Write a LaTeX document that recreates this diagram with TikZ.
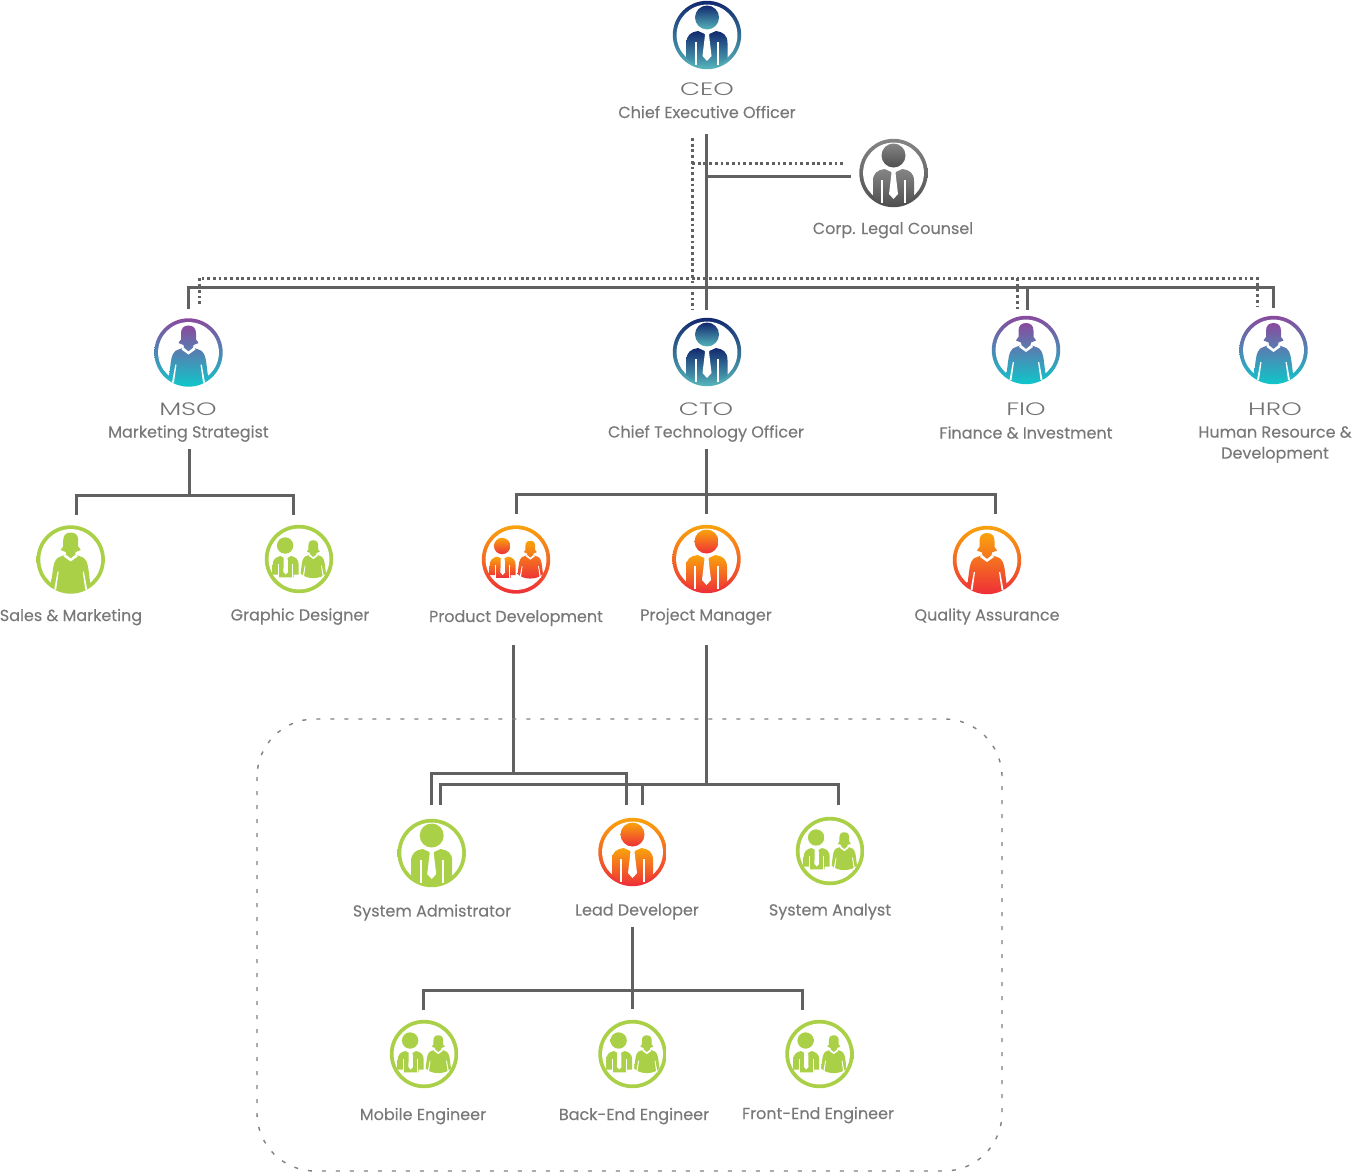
\documentclass[tikz,border=0pt]{standalone}
\usepackage{fontspec}
\setmainfont[FakeBold=0.2]{Poppins}
\newfontfamily\widefont[FakeStretch=1.45]{Poppins Light}
\usetikzlibrary{calc}
\colorlet{txtcol}{black!53}
\colorlet{linecol}{black!62}
\definecolor{navyA}{HTML}{12296F}
\definecolor{navyB}{HTML}{55B4BA}
\definecolor{greyA}{HTML}{858585}
\definecolor{greyB}{HTML}{4F4F4F}
\definecolor{purpA}{HTML}{8A4A9E}
\definecolor{purpB}{HTML}{10C6CA}
\definecolor{oranA}{HTML}{F9A30C}
\definecolor{oranB}{HTML}{EE2F38}
\definecolor{leaf}{HTML}{A9D046}
\tikzstyle{conn}=[linecol,line width=1.5pt]
\tikzstyle{dotline}=[linecol,line width=1.5pt,dash pattern=on 1.4pt off 1.45pt]
\tikzstyle{frame}=[black!50,line width=0.7pt,dash pattern=on 2pt off 5pt,rounded corners=29pt]
\tikzset{
  job/.style={txtcol,font=\fontsize{8}{10.5}\selectfont,align=center,inner sep=0,anchor=base},
  rank/.style={black!55,font=\fontsize{9}{10}\widefont,inner sep=0,anchor=base},
  face/.style 2 args={top color=#1,bottom color=#2,draw=none}}
\newcommand\drawRing[2]{
  \path[face={#1}{#2}] (0,0) circle (34.2);
  \fill[white] (0,0) circle (30.4);
}
\newcommand\drawMan[3]{
  \begin{scope}[shift={(#1)}]
    \drawRing{#2}{#3}
    \path[face={#2}{#3}] (0,-17.5) circle (12);
    \path[face={#2}{#3}] (-20.5,23.3) -- (-20.5,8) .. controls (-20.5,0) and (-16,-3) .. (-9,-4)
      -- (0,0) -- (9,-4) .. controls (16,-3) and (20.5,0) .. (20.5,8) -- (20.5,23.3)
      .. controls (11,33.6) and (-11,33.6) .. (-20.5,23.3) -- cycle;
    \fill[white] (-3,-3) -- (3,-3) -- (2,0) -- (4.5,21) -- (0,26) -- (-4.5,21) -- (-2,0) -- cycle;
    \fill[white] (-12.2,7) rectangle (-10.2,30);
    \fill[white] (10.2,7) rectangle (12.2,30);
  \end{scope}
}
\newcommand\womanShape[2]{
  \path[face={#1}{#2}] (0,-27) .. controls (5,-27) and (7.5,-24) .. (7.5,-19) -- (7.5,-13)
    .. controls (8,-11.5) and (10,-11) .. (10,-9.5) -- (5,-7.5) -- (4.5,-5) -- (10,-3)
    .. controls (15,-2) and (17,3) .. (18,12) -- (19.5,24)
    .. controls (11,33.6) and (-11,33.6) .. (-19.5,24) -- (-18,12)
    .. controls (-17,3) and (-15,-2) .. (-10,-3) -- (-4.5,-5) -- (-5,-7.5) -- (-10,-9.5)
    .. controls (-10,-11) and (-8,-11.5) .. (-7.5,-13) -- (-7.5,-19)
    .. controls (-7.5,-24) and (-5,-27) .. (0,-27) -- cycle;
  \fill[white] (-5.5,-5.5) -- (0,-1) -- (5.5,-5.5) -- (7,-3) -- (0,2) -- (-7,-3) -- cycle;
  \fill[white] (12,12) -- (13.2,12) -- (16.5,30) -- (14.5,30) -- cycle;
  \fill[white] (-12,12) -- (-13.2,12) -- (-16.5,30) -- (-14.5,30) -- cycle;
}
\newcommand\drawWoman[3]{
  \begin{scope}[shift={(#1)}]
    \drawRing{#2}{#3}
    \womanShape{#2}{#3}
  \end{scope}
}
\newcommand\drawPair[3]{
  \begin{scope}[shift={(#1)}]
    \drawRing{#2}{#3}
    \path[face={#2}{#3}] (-13.9,-13.5) circle (8.2);
    \path[face={#2}{#3}] (-26.3,15.5) -- (-26.3,6) .. controls (-26.3,0) and (-23,-2) .. (-18.5,-3)
      -- (-13.3,0) -- (-8,-3) .. controls (-3.5,-2) and (-0.3,0) .. (-0.3,6) -- (-0.3,15.5)
      -- (-5.5,15.5) -- (-5.5,18.3) -- (-20.5,18.3) -- (-20.5,15.5) -- cycle;
    \fill[white] (-15.3,-1) -- (-11.3,-1) -- (-11,13) -- (-13.3,15.5) -- (-15.6,13) -- cycle;
    \fill[white] (-21,5) rectangle (-19.8,18.5);
    \fill[white] (-6.8,5) rectangle (-5.6,18.5);
    \begin{scope}[shift={(14.3,-1.2)},scale=.65]
      \womanShape{#2}{#3}
    \end{scope}
  \end{scope}
}

\begin{document}
\begin{tikzpicture}[x=0.5pt,y=-0.5pt]
  \useasboundingbox (0,0) rectangle (1352,1173);
  \coordinate (ceo) at (707,35);
  \coordinate (legal) at (893.5,173);
  \coordinate (mso) at (188.5,352.5);
  \coordinate (cto) at (707,352);
  \coordinate (fio) at (1026,350);
  \coordinate (hro) at (1273.5,350);
  \coordinate (sales) at (70.7,559.5);
  \coordinate (graphic) at (299,559);
  \coordinate (product) at (516,559.5);
  \coordinate (project) at (706.5,559);
  \coordinate (quality) at (987,560);
  \coordinate (sysadm) at (431.7,853);
  \coordinate (lead) at (632.5,852);
  \coordinate (analyst) at (830,851);
  \coordinate (mobile) at (424,1054);
  \coordinate (backend) at (632.5,1054);
  \coordinate (frontend) at (819.5,1054);

  % ICONS
  \drawMan{ceo}{navyA}{navyB}
  \drawMan{legal}{greyA}{greyB}
  \drawWoman{mso}{purpA}{purpB}
  \drawMan{cto}{navyA}{navyB}
  \drawWoman{fio}{purpA}{purpB}
  \drawWoman{hro}{purpA}{purpB}
  \drawWoman{sales}{leaf}{leaf}
  \drawPair{graphic}{leaf}{leaf}
  \drawPair{product}{oranA}{oranB}
  \drawMan{project}{oranA}{oranB}
  \drawWoman{quality}{oranA}{oranB}
  \drawMan{sysadm}{leaf}{leaf}
  \drawMan{lead}{oranA}{oranB}
  \foreach \n in {analyst,mobile,backend,frontend}{
    \drawPair{\n}{leaf}{leaf}
  }

  % LABELS
  \node[rank] (ceoRank) at (707,95.5) {CEO};
  \node[job] (ceoJob) at (707,118) {Chief Executive Officer};
  \node[job] (legalJob) at (893,234) {Corp. Legal Counsel};
  \node[rank] (msoRank) at (188,415) {MSO};
  \node[job] (msoJob) at (188.5,437.5) {Marketing Strategist};
  \node[rank] (ctoRank) at (706,415) {CTO};
  \node[job] (ctoJob) at (706,437.5) {Chief Technology Officer};
  \node[rank] (fioRank) at (1026,415) {FIO};
  \node[job] (fioJob) at (1026,438.5) {Finance \& Investment};
  \node[rank] (hroRank) at (1275,415) {HRO};
  \node[job,anchor=center] (hroJob) at (1275,444.5) {Human Resource \&\\Development};
  \node[job] (salesJob) at (71,621) {Sales \& Marketing};
  \node[job] (graphicJob) at (300,620.5) {Graphic Designer};
  \node[job] (productJob) at (516,622) {Product Development};
  \node[job] (projectJob) at (706,620.5) {Project Manager};
  \node[job] (qualityJob) at (987,620.5) {Quality Assurance};
  \node[job] (sysadmJob) at (432,916.5) {System Admistrator};
  \node[job] (leadJob) at (637,915.5) {Lead Developer};
  \node[job] (analystJob) at (830,915.5) {System Analyst};
  \node[job] (mobileJob) at (423,1120) {Mobile Engineer};
  \node[job] (backendJob) at (634,1120) {Back-End Engineer};
  \node[job] (frontendJob) at (818,1119) {Front-End Engineer};

  % LINES
  \coordinate (ceoOut) at (706.5,134);
  \coordinate (ctoIn) at (706.5,310);
  \coordinate (legalIn) at (851,176);
  \coordinate (topBus) at (706.5,287);
  \coordinate (msoIn) at (188,309);
  \coordinate (fioIn) at (1027,310);
  \coordinate (hroIn) at (1273,308);
  \draw[conn] (ceoOut) -- (ctoIn);
  \draw[conn] (ceoOut |- legalIn) -- (legalIn);
  \draw[conn] (msoIn) -- (msoIn |- topBus) -- (hroIn |- topBus) -- (hroIn);
  \draw[conn] (fioIn |- topBus) -- (fioIn);

  \coordinate (ceoDot) at (692,138);
  \coordinate (ctoDot) at (692,310);
  \coordinate (legalDot) at (845,163);
  \coordinate (msoDot) at (199,304);
  \coordinate (fioDot) at (1017,310);
  \coordinate (hroDot) at (1257,307);
  \coordinate (dotBus) at (692,278);
  \draw[dotline] (ceoDot) -- (ctoDot);
  \draw[dotline] (ceoDot |- legalDot) -- (legalDot);
  \draw[dotline] (msoDot) -- (msoDot |- dotBus) -- (hroDot |- dotBus) -- (hroDot);
  \draw[dotline] (fioDot |- dotBus) -- (fioDot);

  \coordinate (msoOut) at (189,449);
  \coordinate (msoBus) at (189,495);
  \coordinate (salesIn) at (76,515);
  \coordinate (graphicIn) at (293,515);
  \draw[conn] (msoOut) -- (msoBus);
  \draw[conn] (salesIn) -- (salesIn |- msoBus) -- (graphicIn |- msoBus) -- (graphicIn);

  \coordinate (ctoOut) at (706,449);
  \coordinate (projectIn) at (706,514);
  \coordinate (ctoBus) at (706,494);
  \coordinate (productIn) at (516,514);
  \coordinate (qualityIn) at (995,514);
  \draw[conn] (ctoOut) -- (projectIn);
  \draw[conn] (productIn) -- (productIn |- ctoBus) -- (qualityIn |- ctoBus) -- (qualityIn);

  \coordinate (productOut) at (513,645);
  \coordinate (productBus) at (513,773);
  \coordinate (sysadmInA) at (431.7,805);
  \coordinate (leadInA) at (626.7,805);
  \draw[conn] (productOut) -- (productBus);
  \draw[conn] (sysadmInA) -- (sysadmInA |- productBus) -- (leadInA |- productBus) -- (leadInA);

  \coordinate (projectOut) at (706,645);
  \coordinate (projectBus) at (706,784);
  \coordinate (sysadmInB) at (440.3,805);
  \coordinate (leadInB) at (642.5,805);
  \coordinate (analystIn) at (838,805);
  \draw[conn] (projectOut) -- (projectBus);
  \draw[conn] (sysadmInB) -- (sysadmInB |- projectBus) -- (analystIn |- projectBus) -- (analystIn);
  \draw[conn] (leadInB |- projectBus) -- (leadInB);

  \coordinate (leadOut) at (632,927);
  \coordinate (backendIn) at (632,1009);
  \coordinate (leadBus) at (632,990);
  \coordinate (mobileIn) at (423,1010);
  \coordinate (frontendIn) at (802,1010);
  \draw[conn] (leadOut) -- (backendIn);
  \draw[conn] (mobileIn) -- (mobileIn |- leadBus) -- (frontendIn |- leadBus) -- (frontendIn);

  % TEAM
  \draw[frame] (257,719) rectangle (1002,1171);
\end{tikzpicture}
\end{document}
